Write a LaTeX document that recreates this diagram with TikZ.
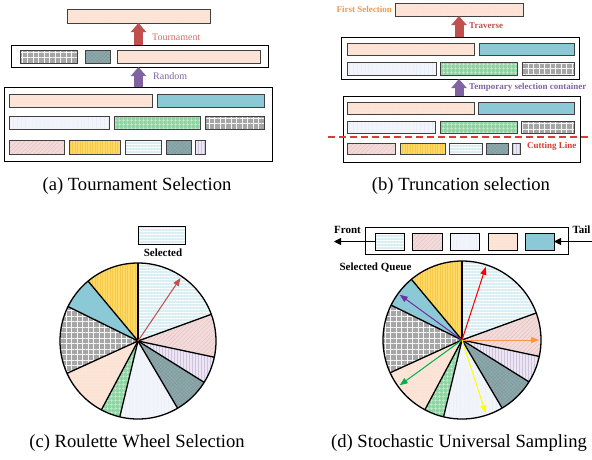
\documentclass[tikz,border=0pt]{standalone}
\usepackage{fontspec}
\setmainfont{Liberation Serif}
\newfontfamily\capfont{Liberation Serif}
\usetikzlibrary{patterns.meta,arrows.meta}
\definecolor{peachc}{HTML}{FCE4D6}
\definecolor{peachp}{HTML}{F6D6C2}
\definecolor{tealc}{HTML}{8CC9D6}
\definecolor{lbluec}{HTML}{F1F5FB}
\definecolor{lbluep}{HTML}{DCE6F2}
\definecolor{greenc}{HTML}{8FD4A3}
\definecolor{greenp}{HTML}{C8EDD2}
\definecolor{grayc}{HTML}{A6A6A6}
\definecolor{grayp}{HTML}{F4F4F4}
\definecolor{pinkc}{HTML}{F2DCDB}
\definecolor{pinkp}{HTML}{E6C2C1}
\definecolor{yellowc}{HTML}{FFD966}
\definecolor{yellowp}{HTML}{F7C948}
\definecolor{lcyanc}{HTML}{DAEEF3}
\definecolor{tgrayc}{HTML}{8FAAAD}
\definecolor{tgrayp}{HTML}{7E9A9D}
\definecolor{lavc}{HTML}{ECE6F2}
\definecolor{lavp}{HTML}{CFC4DF}
\definecolor{arrR}{HTML}{C0504D}
\definecolor{arrRl}{HTML}{D26E6B}
\definecolor{arrP}{HTML}{8064A2}
\definecolor{arrO}{HTML}{F79646}
\definecolor{cutR}{HTML}{D63C3C}
\definecolor{sGreen}{HTML}{00B050}
\definecolor{sPurple}{HTML}{7030A0}
\definecolor{sYellow}{HTML}{FFFF00}
\definecolor{sRed}{HTML}{FF0000}
\tikzset{
  fPeach/.style={preaction={fill=peachc}, preaction={pattern={Dots[radius=0.4pt,distance=3pt]}, pattern color=peachp}},
  fTeal/.style={preaction={fill=tealc}},
  fLBlue/.style={preaction={fill=lbluec}, preaction={pattern={Lines[angle=90,distance=4pt,line width=0.6pt]}, pattern color=lbluep}},
  fGreen/.style={preaction={fill=greenc}, preaction={pattern={Hatch[angle=0,distance=4pt,line width=0.6pt]}, pattern color=greenp}},
  fGray/.style={preaction={fill=grayc}, preaction={pattern={Hatch[angle=0,distance=5.5pt,line width=0.9pt]}, pattern color=grayp}},
  fPink/.style={preaction={fill=pinkc}, preaction={pattern={Lines[angle=45,distance=3pt,line width=0.5pt]}, pattern color=pinkp}},
  fYellow/.style={preaction={fill=yellowc}, preaction={pattern={Lines[angle=90,distance=2.5pt,line width=0.6pt]}, pattern color=yellowp}},
  fLCyan/.style={preaction={fill=lcyanc}, preaction={pattern={Lines[angle=0,distance=3pt,line width=1pt]}, pattern color=white}},
  fTGray/.style={preaction={fill=tgrayc}, preaction={pattern={Hatch[angle=45,distance=2.5pt,line width=0.4pt]}, pattern color=tgrayp}},
  fLav/.style={preaction={fill=lavc}, preaction={pattern={Lines[angle=90,distance=3pt,line width=0.7pt]}, pattern color=lavp}},
  cell/.style={draw=black!75, line width=0.9pt, inner sep=0pt, outer sep=0pt, anchor=north west},
  cont/.style={draw=black, line width=1pt, inner sep=0pt, outer sep=0pt, anchor=north west},
  barrowR/.style={draw=arrR, line width=9pt, -{Triangle[length=9pt,width=15pt]}},
  barrowP/.style={draw=arrP, line width=9pt, -{Triangle[length=9pt,width=15pt]}},
  lblA/.style={font=\capfont\fontsize{10}{12}\selectfont, inner sep=0pt, anchor=west},
  lblB/.style={font=\capfont\bfseries\fontsize{9}{11}\selectfont, inner sep=0pt},
  lblC/.style={font=\capfont\bfseries\fontsize{11}{13}\selectfont, inner sep=0pt},
  capt/.style={font=\capfont\fontsize{18.6}{22}\selectfont, inner sep=0pt},
  cutline/.style={draw=cutR, line width=1.2pt, dash pattern=on 7pt off 4pt},
  pieline/.style={draw=black, line width=1.3pt},
  ptr/.style={line width=1pt, -{Triangle[length=8pt,width=6pt]}},
  qarrow/.style={draw=black, line width=0.9pt, -{Triangle[length=7pt,width=7pt]}},
}
\newcommand{\mycell}[6]{\node[#1,minimum width={(#4)-(#2)},minimum height={(#5)-(#3)}] (#6) at (#2,#3) {};}
\newcommand{\pieslice}[4]{\path[#1] (0,0) -- (#2:#4) arc[start angle=#2, end angle=#3, radius=#4] -- cycle;}
\newcommand{\roulettepie}[1]{%
  \pieslice{fLCyan}{20}{90}{#1}
  \pieslice{fPink}{-12}{20}{#1}
  \pieslice{fLav}{-32}{-12}{#1}
  \pieslice{fTGray}{-59.5}{-32}{#1}
  \pieslice{fLBlue}{-103.5}{-59.5}{#1}
  \pieslice{fGreen}{-118}{-103.5}{#1}
  \pieslice{fPeach}{-155.5}{-118}{#1}
  \pieslice{fGray}{-206.2}{-155.5}{#1}
  \pieslice{fTeal}{-230.2}{-206.2}{#1}
  \pieslice{fYellow}{-270}{-230.2}{#1}
  \foreach \a in {90,20,-12,-32,-59.5,-103.5,-118,-155.5,153.8,129.8} \draw[pieline] (0,0) -- (\a:#1);
  \draw[pieline] (0,0) circle[radius=#1];
}
\begin{document}
\begin{tikzpicture}[x=1pt,y=-1pt]
\useasboundingbox (0,0) rectangle (592,459);

% ---------------- (a) Tournament selection
\mycell{cell,fPeach}{67}{9}{210}{23}{aTop}
\mycell{cont}{11}{45}{268}{67}{aMid}
\mycell{cell,fGray}{20}{50}{77}{63}{aM1}
\mycell{cell,fTGray}{85}{50}{110}{63}{aM2}
\mycell{cell,fPeach}{117}{50}{260}{63}{aM3}
\mycell{cont}{4}{87}{272}{161}{aBot}
\mycell{cell,fPeach}{9}{94}{152}{107}{aB1}
\mycell{cell,fTeal}{157}{94}{264}{107}{aB2}
\mycell{cell,fLBlue}{9}{116}{109}{129}{aB3}
\mycell{cell,fGreen}{114}{116}{200}{129}{aB4}
\mycell{cell,fGray}{205}{116}{264}{129}{aB5}
\mycell{cell,fPink}{9}{140}{64}{154}{aB6}
\mycell{cell,fYellow}{69}{140}{120}{154}{aB7}
\mycell{cell,fLCyan}{125}{140}{161}{154}{aB8}
\mycell{cell,fTGray}{166}{140}{191}{154}{aB9}
\mycell{cell,fLav}{195}{140}{205}{154}{aB10}
\draw[barrowR] (aMid.north -| aTop.south) -- (aTop.south);
\draw[barrowP] (aBot.north -| aTop.south) -- (aMid.south -| aTop.south);
\node[lblA, text=arrRl] (aTl) at (152,37) {Tournament};
\node[lblA, text=arrP] (aRl) at (153,76) {Random};
\node[capt] (capA) at (137,186) {(a) Tournament Selection};

% ---------------- (b) Truncation selection
\mycell{cell,fPeach}{395}{3}{523}{16}{bTop}
\node[lblB, text=arrO, anchor=east] (bFirst) at (392,9.5) {First Selection};
\mycell{cont}{341}{37}{579}{79}{bUp}
\mycell{cell,fPeach}{347}{43}{474}{55}{bU1}
\mycell{cell,fTeal}{479}{43}{574}{55}{bU2}
\mycell{cell,fLBlue}{347}{62}{436}{75}{bU3}
\mycell{cell,fGreen}{440}{62}{517}{75}{bU4}
\mycell{cell,fGray}{522}{62}{574}{75}{bU5}
\mycell{cont}{343}{96}{580}{162}{bLo}
\mycell{cell,fPeach}{347}{102}{474}{114}{bL1}
\mycell{cell,fTeal}{478}{102}{574}{114}{bL2}
\mycell{cell,fLBlue}{347}{121}{435}{133}{bL3}
\mycell{cell,fGreen}{440}{121}{517}{133}{bL4}
\mycell{cell,fGray}{521}{121}{574}{133}{bL5}
\mycell{cell,fPink}{347}{143}{395}{154}{bL6}
\mycell{cell,fYellow}{400}{143}{445}{154}{bL7}
\mycell{cell,fLCyan}{449}{143}{482}{154}{bL8}
\mycell{cell,fTGray}{486}{143}{508}{154}{bL9}
\mycell{cell,fLav}{512}{143}{520}{154}{bL10}
\coordinate (cutL) at (328,137);
\coordinate (cutRt) at (592,137);
\draw[cutline] (cutL) -- (cutRt);
\node[lblB, text=cutR, anchor=west] (bCut) at (527,146) {Cutting Line};
\draw[barrowR] (bUp.north -| bTop.south) -- (bTop.south);
\draw[barrowP] (bLo.north -| bTop.south) -- (bUp.south -| bTop.south);
\node[lblB, text=arrR, anchor=west] (bTrav) at (469,26) {Traverse};
\node[lblB, text=arrP, anchor=west] (bTemp) at (469,87.5) {Temporary selection container};
\node[capt] (capB) at (461,186) {(b) Truncation selection};

% ---------------- (c) Roulette wheel selection
\mycell{cell,draw=black,fLCyan}{138}{226}{185}{244}{cSel}
\node[lblC] (cSelL) at (163,253) {Selected};
\begin{scope}[shift={(138,341)}, y=1pt]
  \roulettepie{78pt}
  \coordinate (cC) at (0,0);
  \coordinate (cA) at (56:76pt);
  \draw[ptr, draw=arrR, fill=arrR] (cC) -- (cA);
\end{scope}
\node[capt] (capC) at (137,443) {(c) Roulette Wheel Selection};

% ---------------- (d) Stochastic universal sampling
\mycell{cont}{365}{227}{568}{254}{dQ}
\mycell{cell,draw=black,fLCyan}{375}{233}{404}{250}{q1}
\mycell{cell,draw=black,fPink}{412}{233}{442}{250}{q2}
\mycell{cell,draw=black,fLBlue}{450}{233}{479}{250}{q3}
\mycell{cell,draw=black,fPeach}{488}{233}{517}{250}{q4}
\mycell{cell,draw=black,fTeal}{525}{233}{554}{250}{q5}
\coordinate (frontEnd) at (334,241.5);
\coordinate (tailStart) at (592,241.5);
\draw[qarrow] (q1.west) -- (frontEnd);
\draw[qarrow] (tailStart) -- (q5.east);
\node[lblC] (dFront) at (347.5,230) {Front};
\node[lblC] (dTail) at (581.5,230) {Tail};
\node[lblC] (dSQ) at (375.5,268) {Selected Queue};
\begin{scope}[shift={(462,340)}, y=1pt]
  \roulettepie{79pt}
  \coordinate (dC) at (0,0);
  \coordinate (dA1) at (72:77pt);
  \coordinate (dA2) at (0:77pt);
  \coordinate (dA3) at (-72:77pt);
  \coordinate (dA4) at (-144:77pt);
  \coordinate (dA5) at (144:77pt);
  \draw[ptr, draw=sRed, fill=sRed] (dC) -- (dA1);
  \draw[ptr, draw=arrO, fill=arrO] (dC) -- (dA2);
  \draw[ptr, draw=sYellow, fill=sYellow] (dC) -- (dA3);
  \draw[ptr, draw=sGreen, fill=sGreen] (dC) -- (dA4);
  \draw[ptr, draw=sPurple, fill=sPurple] (dC) -- (dA5);
\end{scope}
\node[capt] (capD) at (459,443) {(d) Stochastic Universal Sampling};
\end{tikzpicture}
\end{document}
